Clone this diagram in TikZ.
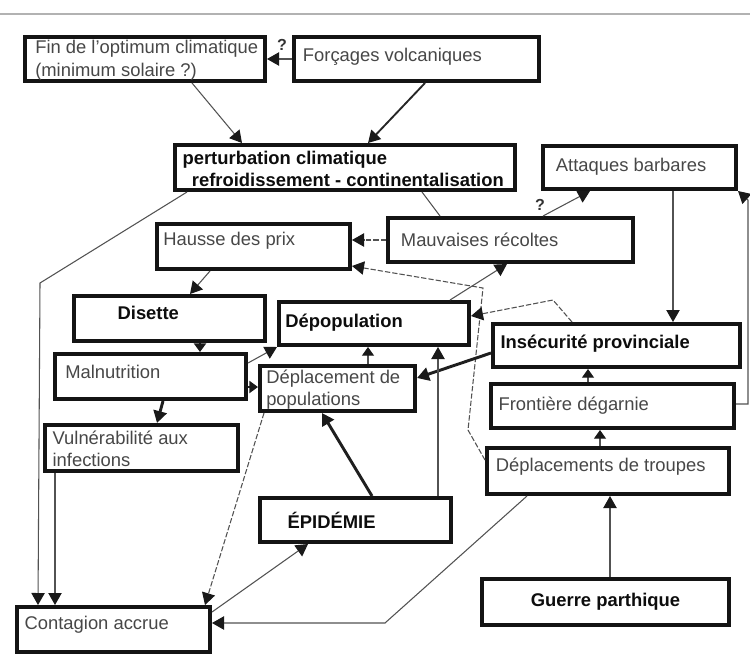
\documentclass[tikz,border=0pt]{standalone}
\usepackage{fontspec}
\setmainfont{Liberation Sans}
\usetikzlibrary{arrows.meta}
\newcommand\dbox[5]{%
  \pgfmathsetmacro\bw{(#4-#2)*0.75-3.3}\pgfmathsetmacro\bh{(#5-#3)*0.75-3.3}%
  \node[box, minimum width=\bw pt, minimum height=\bh pt] (#1) at (#2,#3) {};}
\begin{document}
\begin{tikzpicture}[x=0.75pt,y=-0.75pt,
  box/.style={draw=black!92, line width=3.3pt, rectangle, anchor=north west, inner sep=0pt, fill=white},
  txt/.style={anchor=west, inner sep=0pt, align=left, text=black!72, font=\fontsize{13.8}{16.8}\selectfont},
  btxt/.style={txt, text=black!95, font=\fontsize{13.8}{16.8}\selectfont\bfseries},
  link/.style={draw=black!68, line width=0.8pt},
  dlink/.style={link, dash pattern=on 4pt off 1.5pt},
  heavy/.style={draw=black!88, line width=2.2pt},
  mid/.style={draw=black!85, line width=1.4pt},
  tip/.style={-{Triangle[length=9pt,width=10pt,color=black!90]}},
  stip/.style={-{Triangle[length=6.5pt,width=9pt,color=black!90]}},
  qm/.style={inner sep=0pt, font=\fontsize{12}{14}\selectfont\bfseries, text=black!80}
]
\useasboundingbox (0,0) rectangle (750,658);
\draw[black!30, line width=0.8pt] (0,14) -- (750,14);

% boxes
\dbox{fin}{23}{35}{267}{83}
\dbox{forc}{292}{35}{541}{83}
\dbox{pert}{173}{143}{517}{192}
\dbox{att}{541}{144}{738}{191}
\dbox{hausse}{155}{222}{352}{271}
\dbox{mauv}{386}{216}{635}{264}
\dbox{dis}{72}{294}{267}{343}
\dbox{depop}{277}{300}{471}{347}
\dbox{insec}{491}{322}{742}{369}
\dbox{maln}{53}{352}{248}{401}
\dbox{deplpop}{258}{364}{417}{413}
\dbox{front}{489}{382}{736}{430}
\dbox{vuln}{43}{423}{240}{473}
\dbox{troupes}{485}{446}{731}{496}
\dbox{epid}{258}{496}{453}{544}
\dbox{cont}{15}{605}{212}{654}
\dbox{guerre}{480}{577}{731}{627}

% texts
\node[txt] (fin-t) at ([xshift=9pt,yshift=-1pt]fin.west) {Fin de l'optimum climatique\\(minimum solaire ?)};
\node[txt] (forc-t) at ([xshift=8pt,yshift=1.5pt]forc.west) {Forçages volcaniques};
\node[btxt] (pert-t) at ([xshift=7pt,yshift=-1pt]pert.west) {perturbation climatique\\\hspace*{7pt}refroidissement - continentalisation};
\node[txt] (att-t) at ([xshift=11pt,yshift=0.5pt]att.west) {Attaques barbares};
\node[txt] (hausse-t) at ([xshift=6pt,yshift=4pt]hausse.west) {Hausse des prix};
\node[txt] (mauv-t) at ([xshift=11pt,yshift=0pt]mauv.west) {Mauvaises récoltes};
\node[btxt] (dis-t) at ([xshift=34pt,yshift=4pt]dis.west) {Disette};
\node[btxt] (depop-t) at ([xshift=6pt,yshift=1pt]depop.west) {Dépopulation};
\node[btxt] (insec-t) at ([xshift=7pt,yshift=1.5pt]insec.west) {Insécurité provinciale};
\node[txt] (maln-t) at ([xshift=9pt,yshift=3.5pt]maln.west) {Malnutrition};
\node[txt] (deplpop-t) at ([xshift=6pt,yshift=-1pt]deplpop.west) {Déplacement de\\populations};
\node[txt] (front-t) at ([xshift=7pt,yshift=0.5pt]front.west) {Frontière dégarnie};
\node[txt] (vuln-t) at ([xshift=7pt,yshift=-0.5pt]vuln.west) {Vulnérabilité aux\\infections};
\node[txt] (troupes-t) at ([xshift=8pt,yshift=3pt]troupes.west) {Déplacements de troupes};
\node[btxt] (epid-t) at ([xshift=22pt,yshift=0pt]epid.west) {ÉPIDÉMIE};
\node[txt] (cont-t) at ([xshift=7pt,yshift=3.5pt]cont.west) {Contagion accrue};
\node[btxt, anchor=center] (guerre-t) at ([yshift=0.5pt]guerre.center) {Guerre parthique};

% question marks
\node[qm] (q1) at (282,45) {?};
\node[qm] (q2) at (540,205) {?};

% bend points
\coordinate (b1) at (40,283);
\coordinate (b2) at (468,430);
\coordinate (b3) at (483,288);
\coordinate (b4) at (553,300);
\coordinate (b5) at (748,404);
\coordinate (b6) at (748,200);
\coordinate (b7) at (385,623);

% connectors
\draw[link, tip] (forc.west) -- (fin.east);
\draw[link, tip] (192,0 |- fin.south) -- (242,0 |- pert.north);
\draw[mid, tip] (425,0 |- forc.south) -- (368,0 |- pert.north);
\draw[link, tip] (187,0 |- pert.south) -- (b1) -- (38,0 |- cont.north);
\draw[link] (422,0 |- pert.south) -- (440,0 |- mauv.north);
\draw[link, tip] (543,0 |- mauv.north) -- (590,0 |- att.south);
\draw[dlink, tip] (mauv.west) -- (hausse.east |- mauv.west);
\draw[dlink, tip] (troupes.west |- 0,460) -- (b2) -- (b3) -- (hausse.east |- 0,266);
\draw[link, tip] (450,0 |- depop.north) -- (507,0 |- mauv.south);
\draw[dlink, tip] (572,0 |- insec.north) -- (b4) -- (depop.east |- 0,316);
\draw[heavy, tip] (insec.west |- 0,353) -- (deplpop.east |- 0,378);
\draw[link, tip] (673,0 |- att.south) -- (673,0 |- insec.north);
\draw[link, tip] (front.east |- b5) -- (b5) -- (b6) -- (att.south east);
\draw[link, stip] (588,0 |- front.north) -- (588,0 |- insec.south);
\draw[link, stip] (600,0 |- troupes.north) -- (600,0 |- front.south);
\draw[link, tip] (610,0 |- guerre.north) -- (610,0 |- troupes.south);
\draw[link, tip] (527,0 |- troupes.south) -- (b7) -- (cont.east |- b7);
\draw[link, tip] (cont.east |- 0,612) -- (308,0 |- epid.south);
\draw[dlink, tip] (264,0 |- deplpop.south) -- (205,0 |- cont.north);
\draw[heavy, tip] (372,0 |- epid.north) -- (322,0 |- deplpop.south);
\draw[link, tip] (438,0 |- epid.north) -- (438,0 |- depop.south);
\draw[link, stip] (368,0 |- deplpop.north) -- (368,0 |- depop.south);
\draw[link, tip] (maln.east |- 0,363) -- (depop.south west);
\draw[heavy, stip] (maln.east |- 0,387) -- (deplpop.west |- 0,387);
\draw[heavy, stip] (200,0 |- dis.south) -- (200,0 |- maln.north);
\draw[link, tip] (210,0 |- hausse.south) -- (190,0 |- dis.north);
\draw[heavy, tip] (163,0 |- maln.south) -- (157,0 |- vuln.north);
\draw[link, tip] (55,0 |- vuln.south) -- (55,0 |- cont.north);
\end{tikzpicture}
\end{document}
